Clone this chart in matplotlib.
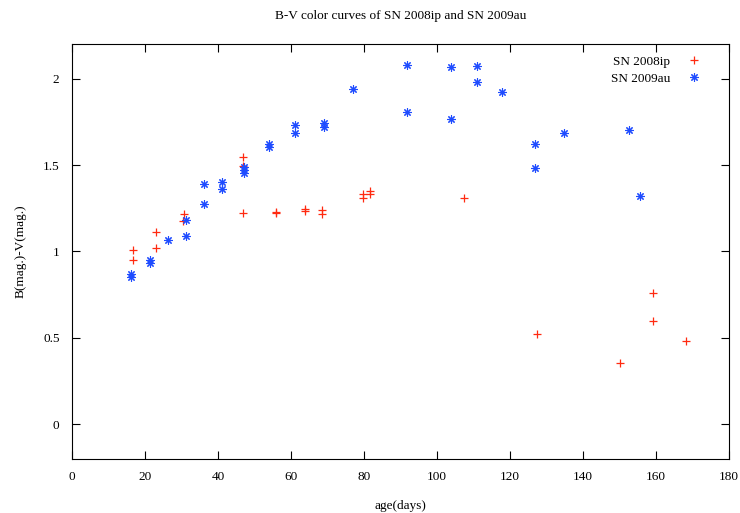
import matplotlib
matplotlib.use("Agg")
import matplotlib.pyplot as plt
from matplotlib.ticker import FuncFormatter

plt.rcParams['font.family'] = ['Liberation Serif', 'DejaVu Serif']

# SN 2008ip
age_08ip = [16.7, 16.7, 22.9, 22.9, 30.8, 30.5, 46.8, 46.8, 46.8, 56.0, 56.0,
            63.8, 63.8, 68.6, 68.6, 79.6, 79.6, 81.6, 81.6, 107.4,
            127.3, 150.1, 159.3, 159.3, 168.1]
bv_08ip = [1.01, 0.948, 1.113, 1.023, 1.215, 1.178, 1.545, 1.494, 1.223, 1.229, 1.22,
           1.243, 1.237, 1.238, 1.217, 1.33, 1.31, 1.35, 1.335, 1.312,
           0.525, 0.355, 0.762, 0.599, 0.485]

# SN 2009au
age_09au = [16.3, 16.3, 21.4, 21.4, 26.2, 31.2, 31.2, 36.3, 36.3, 41.2, 41.2,
            47.0, 47.0, 47.0, 54.1, 54.1, 61.2, 61.2, 69.1, 69.1,
            77.1, 91.9, 91.9, 103.8, 103.8, 110.9, 110.9, 117.7,
            126.8, 126.8, 134.8, 152.7, 155.6]
bv_09au = [0.87, 0.855, 0.95, 0.935, 1.064, 1.184, 1.089, 1.39, 1.277, 1.401, 1.362,
           1.49, 1.47, 1.455, 1.62, 1.605, 1.73, 1.684, 1.746, 1.719,
           1.94, 2.077, 1.804, 2.066, 1.765, 2.072, 1.978, 1.922,
           1.622, 1.481, 1.684, 1.703, 1.323]

fig = plt.figure(figsize=(7.40, 5.13), dpi=100)
ax = fig.add_axes([0.0973, 0.1053, 0.8878, 0.8089])

ax.plot(age_08ip, bv_08ip, linestyle='none', marker='+', markersize=6,
        markeredgewidth=0.9, color='#ff2a10', label='SN 2008ip')
ax.plot(age_09au, bv_09au, linestyle='none', marker=(8, 2, 0), markersize=6,
        markeredgewidth=0.8, color='#1f4cff', label='SN 2009au')

ax.set_xlim(0, 180)
ax.set_ylim(-0.2, 2.2)
ax.set_xticks(range(0, 181, 20))
ax.set_yticks([0, 0.5, 1, 1.5, 2])
ax.yaxis.set_major_formatter(FuncFormatter(lambda v, p: '%g' % v))
ax.tick_params(direction='in', top=True, right=True, length=6, labelsize=9.5, pad=9)

ax.set_title('B-V color curves of SN 2008ip and SN 2009au', fontsize=9.5, pad=18)
ax.set_xlabel('age(days)', fontsize=9.5, labelpad=12)
ax.set_ylabel('B(mag.)-V(mag.)', fontsize=9.5, labelpad=12)

ax.legend(loc='upper right', bbox_to_anchor=(0.971, 0.9855), frameon=False,
          markerfirst=False, fontsize=9.5, handletextpad=1.0, borderaxespad=0,
          handlelength=1.6, labelspacing=0.4, borderpad=0.4)

fig.savefig('out.png', dpi=100)
